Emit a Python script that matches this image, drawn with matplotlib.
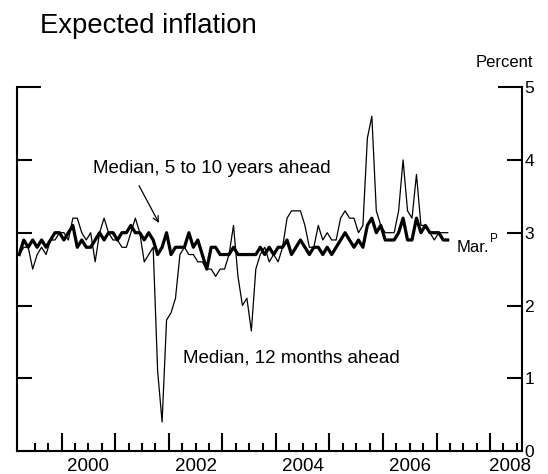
import numpy as np
import pandas as pd
import matplotlib
matplotlib.use("Agg")
import matplotlib.pyplot as plt
from matplotlib.transforms import blended_transform_factory

plt.rcParams['font.family'] = ['Liberation Sans', 'DejaVu Sans']

# monthly, Mar 1999 .. Mar 2007
months = pd.period_range('1999-03', '2007-03', freq='M')

# median expected inflation, 5 to 10 years ahead (percent)
long_run = [
    2.7, 2.9, 2.8, 2.9, 2.8, 2.9, 2.8, 2.9, 3.0, 3.0,                  # 1999
    2.9, 3.0, 3.1, 2.8, 2.9, 2.8, 2.8, 2.9, 3.0, 2.9, 3.0, 3.0,        # 2000
    2.9, 3.0, 3.0, 3.1, 3.0, 3.0, 2.9, 3.0, 2.9, 2.7, 2.8, 3.0,        # 2001
    2.7, 2.8, 2.8, 2.8, 3.0, 2.8, 2.9, 2.7, 2.5, 2.8, 2.8, 2.7,        # 2002
    2.7, 2.7, 2.8, 2.7, 2.7, 2.7, 2.7, 2.7, 2.8, 2.7, 2.8, 2.7,        # 2003
    2.8, 2.8, 2.9, 2.7, 2.8, 2.9, 2.8, 2.7, 2.8, 2.8, 2.7, 2.8,        # 2004
    2.7, 2.8, 2.9, 3.0, 2.9, 2.8, 2.9, 2.8, 3.1, 3.2, 3.0, 3.1,        # 2005
    2.9, 2.9, 2.9, 3.0, 3.2, 2.9, 2.9, 3.2, 3.0, 3.1, 3.0, 3.0,        # 2006
    3.0, 2.9, 2.9,                                                    # 2007
]

# median expected inflation, 12 months ahead (percent)
short_run = [
    2.7, 2.8, 2.8, 2.5, 2.7, 2.8, 2.7, 2.9, 2.9, 3.0,                  # 1999
    3.0, 2.9, 3.2, 3.2, 3.0, 2.9, 3.0, 2.6, 3.0, 3.2, 3.0, 2.9,        # 2000
    2.9, 2.8, 2.8, 3.0, 3.2, 3.0, 2.6, 2.7, 2.8, 1.1, 0.4, 1.8,        # 2001
    1.9, 2.1, 2.7, 2.8, 2.7, 2.7, 2.6, 2.6, 2.5, 2.5, 2.4, 2.5,        # 2002
    2.5, 2.7, 3.1, 2.4, 2.0, 2.1, 1.65, 2.5, 2.7, 2.8, 2.6, 2.7,       # 2003
    2.6, 2.8, 3.2, 3.3, 3.3, 3.3, 3.1, 2.8, 2.8, 3.1, 2.9, 3.0,        # 2004
    2.9, 2.9, 3.2, 3.3, 3.2, 3.2, 3.0, 3.1, 4.3, 4.6, 3.3, 3.1,        # 2005
    3.0, 3.0, 3.0, 3.3, 4.0, 3.3, 3.2, 3.8, 3.1, 3.1, 3.0, 2.9,        # 2006
    3.0, 3.0, 3.0,                                                    # 2007
]

year_labels = ['2000', '2002', '2004', '2006', '2008']
year_label_pos = [2000.5, 2002.5, 2004.5, 2006.5, 2008.37]

x = months.year + (months.month - 0.5) / 12.0

fig = plt.figure(figsize=(5.48, 4.74), dpi=100)
ax = fig.add_axes([16.7 / 548, 1 - 451.1 / 474, 505.0 / 548, 364.0 / 474])

ax.plot(x, short_run, color='black', lw=0.9)
ax.plot(x, long_run, color='black', lw=2.3)

ax.set_xlim(1999.16, 2008.59)
ax.set_ylim(0, 5)

for side in ['left', 'right', 'bottom']:
    ax.spines[side].set_linewidth(1.5)
ax.spines['top'].set_visible(False)

# x axis: tall ticks at year starts, short ones at quarters
ax.set_xticks(np.arange(2000, 2009))
quarters = [q for q in np.arange(1999.5, 2008.51, 0.25) if q % 1 != 0]
ax.set_xticks(quarters, minor=True)
ax.tick_params(axis='x', which='major', direction='in', length=13, width=1.5,
               labelbottom=False)
ax.tick_params(axis='x', which='minor', direction='in', length=6, width=1.5)

trans = blended_transform_factory(ax.transData, ax.transAxes)
for lab, pos in zip(year_labels, year_label_pos):
    ax.text(pos, -20.0 / 364, lab, transform=trans, ha='center', va='baseline', fontsize=13.5)

# y axis: ticks on both sides, labels on the right, longer cap at the top
ax.set_yticks([0, 1, 2, 3, 4])
ax.set_yticks([5], minor=True)
ax.set_yticklabels(['0', '1', '2', '3', '4'])
ax.set_yticklabels(['5'], minor=True)
ax.tick_params(axis='y', which='both', direction='in', width=1.5, left=True, right=True,
               labelleft=False, labelright=True, pad=2, labelsize=12.5)
ax.tick_params(axis='y', which='major', length=11)
ax.tick_params(axis='y', which='minor', length=17)

fig.text(40 / 548, 1 - 33 / 474, 'Expected inflation', fontsize=19.8, va='baseline', ha='left')
fig.text(533 / 548, 1 - 67 / 474, 'Percent', fontsize=12, va='baseline', ha='right')

ax.text(2000.59, 3.82, 'Median, 5 to 10 years ahead', fontsize=13.5, va='baseline')
ax.annotate('', xy=(2001.84, 3.10), xytext=(2001.42, 3.68),
            arrowprops=dict(arrowstyle='->', lw=0.9, color='black'))
ax.text(2002.26, 1.22, 'Median, 12 months ahead', fontsize=13.5, va='baseline')

ax.text(2007.37, 2.74, 'Mar.', fontsize=12, va='baseline')
ax.text(2008.0, 2.87, 'P', fontsize=8.5, va='baseline')

fig.savefig('out.png', dpi=100)
